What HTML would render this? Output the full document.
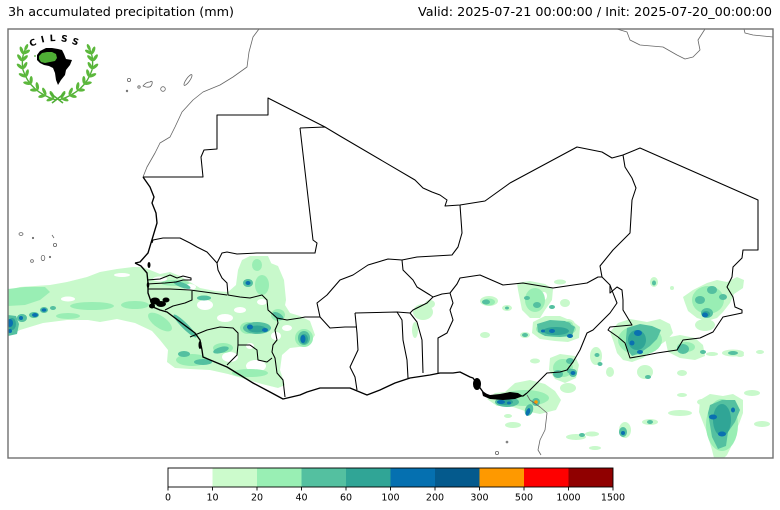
<!DOCTYPE html>
<html><head><meta charset="utf-8">
<style>
html,body{margin:0;padding:0;background:#fff;}
svg{display:block;}
</style></head>
<body>
<svg width="780" height="510" viewBox="0 0 780 510" xmlns="http://www.w3.org/2000/svg">
<defs>
<g id="br">
  <path d="M56,100 Q30,92 23,70 Q21,58 25,50" fill="none" stroke="#4fae35" stroke-width="1.3"/>
  <g fill="#5cb83c">
    <g transform="translate(54,98) rotate(200)"><ellipse cx="4" cy="0" rx="4" ry="1.6" transform="rotate(-40)"/><ellipse cx="4" cy="0" rx="4" ry="1.6" transform="rotate(40)"/></g>
    <g transform="translate(46,95) rotate(205)"><ellipse cx="4" cy="0" rx="4" ry="1.6" transform="rotate(-40)"/><ellipse cx="4" cy="0" rx="4" ry="1.6" transform="rotate(40)"/></g>
    <g transform="translate(38,90) rotate(220)"><ellipse cx="4" cy="0" rx="4" ry="1.6" transform="rotate(-40)"/><ellipse cx="4" cy="0" rx="4" ry="1.6" transform="rotate(40)"/></g>
    <g transform="translate(31,84) rotate(232)"><ellipse cx="4" cy="0" rx="4" ry="1.6" transform="rotate(-40)"/><ellipse cx="4" cy="0" rx="4" ry="1.6" transform="rotate(40)"/></g>
    <g transform="translate(26,77) rotate(245)"><ellipse cx="4" cy="0" rx="4" ry="1.6" transform="rotate(-40)"/><ellipse cx="4" cy="0" rx="4" ry="1.6" transform="rotate(40)"/></g>
    <g transform="translate(23,69) rotate(260)"><ellipse cx="4" cy="0" rx="4" ry="1.6" transform="rotate(-40)"/><ellipse cx="4" cy="0" rx="4" ry="1.6" transform="rotate(40)"/></g>
    <g transform="translate(22,61) rotate(275)"><ellipse cx="4" cy="0" rx="4" ry="1.6" transform="rotate(-40)"/><ellipse cx="4" cy="0" rx="4" ry="1.6" transform="rotate(40)"/></g>
    <g transform="translate(23,54) rotate(290)"><ellipse cx="4" cy="0" rx="4" ry="1.6" transform="rotate(-40)"/><ellipse cx="4" cy="0" rx="4" ry="1.6" transform="rotate(40)"/></g>
    <g transform="translate(25,50) rotate(295)"><ellipse cx="3" cy="0" rx="3.5" ry="1.5"/></g>
  </g>
</g>
<path id="arc" d="M31,47 Q55,35 80,47" fill="none"/>
</defs>

<rect x="0" y="0" width="780" height="510" fill="#fff"/>

<!-- Titles -->
<text x="8" y="16" font-family="DejaVu Sans, 'Liberation Sans', sans-serif" font-size="12.5" fill="#000" textLength="226" lengthAdjust="spacingAndGlyphs">3h accumulated precipitation (mm)</text>
<text x="772" y="16" text-anchor="end" font-family="DejaVu Sans, 'Liberation Sans', sans-serif" font-size="12.5" fill="#000" textLength="354" lengthAdjust="spacingAndGlyphs">Valid: 2025-07-21 00:00:00 / Init: 2025-07-20_00:00:00</text>

<!-- Map area -->
<svg x="8" y="29" width="765" height="429" viewBox="8 29 765 429" overflow="hidden">
<g fill="#c8f9cb">
  <polygon points="8,290 20,287 50,285 67,282 87,277 100,272 117,269 133,267 142,267 150,270 160,274 170,272 180,276 190,282 200,288 215,291 228,292 236,285 238,270 242,260 250,256 268,256 272,265 275,280 280,292 285,305 290,313 300,316 310,321 315,335 308,346 290,348 282,355 280,370 285,385 278,388 262,384 245,379 228,374 210,370 190,369 175,368 167,362 168,350 160,340 152,331 135,323 117,319 100,322 88,320 67,320 43,323 20,330 8,336"/>
  <polygon points="268,262 278,266 284,280 286,300 283,316 276,318 271,300"/>
  <ellipse cx="423" cy="312" rx="10" ry="8"/>
  <ellipse cx="415" cy="330" rx="3" ry="8"/>
  <ellipse cx="430" cy="304" rx="5" ry="4"/>
  <ellipse cx="489" cy="301" rx="9" ry="5"/>
  <ellipse cx="507" cy="308" rx="5" ry="3"/>
  <polygon points="517,283 530,281 545,284 553,289 552,300 545,310 540,318 530,318 522,310 520,300 518,290"/>
  <ellipse cx="560" cy="282" rx="6" ry="2.5"/>
  <polygon points="533,322 545,316 560,316 572,321 580,327 579,338 568,342 555,341 540,339 532,333"/>
  <ellipse cx="485" cy="335" rx="5" ry="3"/>
  <ellipse cx="525" cy="335" rx="5" ry="3"/>
  <ellipse cx="535" cy="361" rx="5" ry="2.5"/>
  <polygon points="550,358 560,354 575,356 579,365 576,378 565,383 555,379 549,370"/>
  <polygon points="515,383 530,380 545,384 555,391 561,400 556,410 540,414 525,411 510,406 497,406 487,399 495,393 505,392"/>
  <ellipse cx="568" cy="388" rx="8" ry="5"/>
  <ellipse cx="513" cy="425" rx="8" ry="3"/>
  <ellipse cx="508" cy="416" rx="4" ry="2"/>
  <ellipse cx="576" cy="437" rx="10" ry="3"/>
  <ellipse cx="592" cy="434" rx="7" ry="2.5"/>
  <ellipse cx="568" cy="325" rx="7" ry="6"/>
  <ellipse cx="565" cy="303" rx="5" ry="4"/>
  <ellipse cx="570" cy="370" rx="8" ry="6"/>
  <ellipse cx="596" cy="356" rx="6" ry="9"/>
  <ellipse cx="610" cy="372" rx="4" ry="5"/>
  <ellipse cx="645" cy="372" rx="8" ry="7"/>
  <ellipse cx="682" cy="373" rx="5" ry="3"/>
  <polygon points="610,332 618,323 630,319 647,322 660,319 670,324 673,333 667,340 660,345 650,353 643,358 632,362 623,360 617,353 614,343"/>
  <polygon points="665,338 680,335 695,338 703,345 705,356 695,360 680,358 668,352"/>
  <ellipse cx="733" cy="353" rx="11" ry="3.5"/>
  <ellipse cx="712" cy="354" rx="6" ry="2"/>
  <polygon points="683,297 693,290 707,283 717,280 727,282 737,277 744,280 743,288 734,294 730,303 723,312 717,318 707,321 697,318 688,311 685,303"/>
  <ellipse cx="654" cy="282" rx="4" ry="5"/>
  <ellipse cx="672" cy="288" rx="2" ry="2"/>
  <ellipse cx="705" cy="325" rx="10" ry="6"/>
  <polygon points="700,400 710,394 723,396 733,394 743,400 743,413 739,424 734,434 731,447 727,455 724,458 714,458 712,450 709,440 706,430 702,420 699,412"/>
  <ellipse cx="625" cy="430" rx="6" ry="8"/>
  <ellipse cx="650" cy="422" rx="8" ry="3"/>
  <ellipse cx="680" cy="413" rx="12" ry="3"/>
  <ellipse cx="682" cy="395" rx="5" ry="2"/>
  <ellipse cx="702" cy="402" rx="5" ry="3"/>
  <ellipse cx="762" cy="424" rx="8" ry="3"/>
  <ellipse cx="752" cy="393" rx="8" ry="3"/>
  <ellipse cx="740" cy="355" rx="4" ry="2"/>
  <ellipse cx="760" cy="352" rx="4" ry="2"/>
  <ellipse cx="595" cy="448" rx="6" ry="2"/>
</g>
<g fill="#fff">
  <ellipse cx="68" cy="299" rx="7" ry="2.5"/>
  <ellipse cx="122" cy="275" rx="8" ry="2"/>
  <ellipse cx="160" cy="279" rx="7" ry="2.5"/>
  <ellipse cx="205" cy="305" rx="8" ry="5"/>
  <ellipse cx="225" cy="318" rx="8" ry="4"/>
  <ellipse cx="240" cy="310" rx="6" ry="3"/>
  <ellipse cx="230" cy="357" rx="8" ry="5"/>
  <ellipse cx="256" cy="366" rx="10" ry="6"/>
  <ellipse cx="276" cy="336" rx="5" ry="4"/>
  <ellipse cx="190" cy="287" rx="6" ry="3"/>
  <ellipse cx="262" cy="302" rx="5" ry="3"/>
  <ellipse cx="250" cy="346" rx="4" ry="3"/>
  <ellipse cx="287" cy="328" rx="5" ry="3"/>
  <ellipse cx="717" cy="303" rx="4" ry="3"/>
  <ellipse cx="544" cy="296" rx="3" ry="4"/>
</g>
<g fill="#99eeb4">
  <polygon points="8,289 25,287 45,287 50,292 40,300 25,305 8,306"/>
  <ellipse cx="92" cy="306" rx="22" ry="4"/>
  <ellipse cx="68" cy="316" rx="12" ry="3"/>
  <ellipse cx="135" cy="305" rx="14" ry="4"/>
  <ellipse cx="160" cy="322" rx="14" ry="6" transform="rotate(35 160 322)"/>
  <ellipse cx="175" cy="283" rx="14" ry="3"/>
  <ellipse cx="223" cy="348" rx="10" ry="5"/>
  <ellipse cx="248" cy="328" rx="8" ry="6"/>
  <ellipse cx="262" cy="285" rx="7" ry="10"/>
  <ellipse cx="304" cy="338" rx="9" ry="9"/>
  <ellipse cx="250" cy="373" rx="18" ry="4"/>
  <ellipse cx="192" cy="360" rx="16" ry="6"/>
  <ellipse cx="257" cy="265" rx="5" ry="6"/>
  <ellipse cx="278" cy="315" rx="7" ry="6"/>
  <ellipse cx="489" cy="302" rx="6" ry="3.5"/>
  <ellipse cx="535" cy="300" rx="10" ry="12"/>
  <ellipse cx="556" cy="329" rx="20" ry="8"/>
  <ellipse cx="563" cy="368" rx="10" ry="9"/>
  <ellipse cx="525" cy="398" rx="24" ry="8"/>
  <ellipse cx="640" cy="340" rx="22" ry="15"/>
  <ellipse cx="708" cy="300" rx="16" ry="14"/>
  <ellipse cx="722" cy="425" rx="16" ry="26"/>
  <ellipse cx="686" cy="347" rx="9" ry="5"/>
  <ellipse cx="568" cy="325" rx="5" ry="4"/>
</g>
<g fill="#54c0a0">
  <polygon points="8,315 16,316 19,324 17,334 8,336"/>
  <ellipse cx="22" cy="318" rx="5" ry="4"/>
  <ellipse cx="34" cy="315" rx="5" ry="3"/>
  <ellipse cx="44" cy="310" rx="4" ry="3"/>
  <ellipse cx="53" cy="308" rx="3" ry="2"/>
  <ellipse cx="185" cy="326" rx="16" ry="3" transform="rotate(45 185 326)"/>
  <ellipse cx="182" cy="285" rx="9" ry="2.5" transform="rotate(20 182 285)"/>
  <ellipse cx="204" cy="298" rx="7" ry="2.5"/>
  <ellipse cx="248" cy="283" rx="5" ry="4"/>
  <ellipse cx="257" cy="328" rx="14" ry="6"/>
  <ellipse cx="304" cy="338" rx="6" ry="7"/>
  <ellipse cx="221" cy="350" rx="8" ry="3" transform="rotate(-15 221 350)"/>
  <ellipse cx="184" cy="354" rx="6" ry="3"/>
  <ellipse cx="203" cy="362" rx="9" ry="3"/>
  <ellipse cx="278" cy="316" rx="6" ry="3" transform="rotate(30 278 316)"/>
  <ellipse cx="486" cy="302" rx="4" ry="2.5"/>
  <ellipse cx="507" cy="308" rx="2" ry="1.5"/>
  <ellipse cx="537" cy="305" rx="4" ry="3"/>
  <ellipse cx="552" cy="307" rx="3" ry="2"/>
  <ellipse cx="527" cy="298" rx="3" ry="2"/>
  <polygon points="537,324 550,320 565,321 575,327 572,336 560,337 545,336 538,332"/>
  <ellipse cx="525" cy="335" rx="3" ry="2"/>
  <ellipse cx="558" cy="374" rx="5" ry="4"/>
  <ellipse cx="570" cy="361" rx="4" ry="3"/>
  <ellipse cx="573" cy="373" rx="4" ry="4"/>
  <ellipse cx="507" cy="402" rx="12" ry="5"/>
  <ellipse cx="529" cy="410" rx="4" ry="6" transform="rotate(20 529 410)"/>
  <ellipse cx="536" cy="402" rx="4" ry="4"/>
  <polygon points="627,328 640,324 652,326 661,330 657,339 650,346 640,353 632,356 626,348 626,338"/>
  <ellipse cx="683" cy="349" rx="6" ry="5"/>
  <ellipse cx="703" cy="352" rx="3" ry="2"/>
  <ellipse cx="712" cy="290" rx="5" ry="4"/>
  <ellipse cx="700" cy="300" rx="5" ry="4"/>
  <ellipse cx="707" cy="313" rx="6" ry="5"/>
  <ellipse cx="723" cy="297" rx="4" ry="3"/>
  <ellipse cx="654" cy="283" rx="2" ry="2.5"/>
  <polygon points="710,405 722,400 735,400 740,410 735,422 728,432 726,446 718,449 712,437 710,425 708,413"/>
  <ellipse cx="623" cy="432" rx="4" ry="5"/>
  <ellipse cx="650" cy="422" rx="3" ry="2"/>
  <ellipse cx="582" cy="435" rx="3" ry="2"/>
  <ellipse cx="567" cy="325" rx="4" ry="3"/>
  <ellipse cx="570" cy="371" rx="3" ry="2.5"/>
  <ellipse cx="597" cy="355" rx="2.5" ry="2"/>
  <ellipse cx="600" cy="364" rx="2.5" ry="2"/>
  <ellipse cx="648" cy="377" rx="3" ry="2"/>
  <ellipse cx="733" cy="353" rx="5" ry="2"/>
</g>
<g fill="#30a596">
  <ellipse cx="12" cy="324" rx="4" ry="6"/>
  <ellipse cx="257" cy="329" rx="9" ry="3.5"/>
  <ellipse cx="304" cy="339" rx="4" ry="5"/>
  <ellipse cx="556" cy="331" rx="13" ry="4"/>
  <ellipse cx="637" cy="340" rx="9" ry="10"/>
  <ellipse cx="722" cy="420" rx="9" ry="16"/>
  <ellipse cx="505" cy="402" rx="8" ry="3"/>
  <ellipse cx="706" cy="314" rx="4" ry="3"/>
</g>
<g fill="#0a70b0">
  <ellipse cx="10" cy="323" rx="3" ry="4"/>
  <ellipse cx="10" cy="331" rx="2" ry="2"/>
  <ellipse cx="21" cy="318" rx="2" ry="2"/>
  <ellipse cx="35" cy="315" rx="3" ry="2"/>
  <ellipse cx="44" cy="310" rx="2.5" ry="1.8"/>
  <ellipse cx="248" cy="283" rx="2.5" ry="2"/>
  <ellipse cx="250" cy="327" rx="3" ry="2.5"/>
  <ellipse cx="265" cy="330" rx="3" ry="2"/>
  <ellipse cx="303" cy="339" rx="2.5" ry="4"/>
  <ellipse cx="552" cy="331" rx="3" ry="2"/>
  <ellipse cx="570" cy="336" rx="3" ry="2"/>
  <ellipse cx="543" cy="331" rx="2" ry="1.5"/>
  <ellipse cx="573" cy="373" rx="2.5" ry="2"/>
  <ellipse cx="501" cy="402" rx="4" ry="2"/>
  <ellipse cx="509" cy="403" rx="2" ry="1.5"/>
  <ellipse cx="528" cy="412" rx="2" ry="4" transform="rotate(20 528 412)"/>
  <ellipse cx="638" cy="333" rx="4" ry="3"/>
  <ellipse cx="632" cy="343" rx="2.5" ry="2.5"/>
  <ellipse cx="640" cy="352" rx="3" ry="2"/>
  <ellipse cx="705" cy="315" rx="3" ry="2.5"/>
  <ellipse cx="713" cy="417" rx="4" ry="2.5"/>
  <ellipse cx="722" cy="434" rx="4" ry="2.5"/>
  <ellipse cx="733" cy="410" rx="2" ry="2.5"/>
  <ellipse cx="623" cy="433" rx="2" ry="2"/>
</g>
<ellipse cx="536" cy="402" rx="1.8" ry="1.8" fill="#fe9900"/>

<g fill="none" stroke="#666" stroke-width="0.8" stroke-linejoin="round">
  <polyline points="259,29 253,37 249,52 247,67 233,77 220,85 203,92 193,100 182,112 175,127 170,137 160,143 155,153 147,167 143,177"/>
  <polyline points="617,29 627,32 630,40 640,45 663,47 677,55 685,59 693,57 700,50 698,40 705,29"/>
  <polyline points="744,29 745,33 753,35 763,36 773,37"/>
  <polyline points="527,395 530,400 540,407 547,413 545,430 540,440 538,450 541,455"/>
  <circle cx="129" cy="80" r="1.6"/>
  <circle cx="127" cy="91" r="0.8"/>
  <circle cx="139" cy="87" r="1.2"/>
  <path d="M143,86 Q146,82 150,82 Q153,80 152,84 Q151,88 146,87 Z"/>
  <circle cx="163" cy="89" r="2.3"/>
  <ellipse cx="188" cy="80" rx="6.5" ry="1.8" transform="rotate(-55 188 80)"/>
  <ellipse cx="21" cy="234" rx="2" ry="1.4"/>
  <circle cx="33" cy="238" r="0.7"/>
  <line x1="52" y1="235" x2="54" y2="238"/>
  <circle cx="55" cy="245" r="1.6"/>
  <circle cx="32" cy="261" r="1.4"/>
  <ellipse cx="43" cy="258" rx="1.8" ry="2.6"/>
  <circle cx="50" cy="257" r="0.7"/>
  <circle cx="507" cy="442" r="0.9"/>
  <circle cx="497" cy="453" r="1.6"/>
</g>

<g fill="none" stroke="#000" stroke-width="1.05" stroke-linejoin="round">
  <polyline points="143,177 203,177 201,157 204,150 217,149 217,115 268,115 268,98 325,127"/>
  <polyline points="300,128 325,127 340,136 415,180 423,188 432,192 440,195 447,200 445,206 460,205 485,201 510,183 577,147 602,152 612,158 623,155 640,148 758,200 758,250 743,250 742,258 733,267 732,277 727,287 733,297 735,307 742,310 742,313 723,317 713,332 700,338 683,340 677,350 657,353 647,355 630,358 625,343 618,337 608,330 610,327 632,325 623,310 623,300 622,290 617,287 610,293 610,285 602,277"/>
  <polyline points="623,155 625,167 632,178 636,188 632,200 630,233 613,250 600,266 602,277"/>
  <polyline points="300,128 313,240 317,243 315,253 257,253 237,254 227,252 222,253 217,263"/>
  <polyline points="152,243 153,240 163,238 180,238 190,243 197,247 207,252 217,263"/>
  <polyline points="217,263 218,270 222,278 227,283 228,295 240,297 250,298 262,295 267,300 268,310 277,318 287,320 300,318 305,317 320,317"/>
  <polyline points="148,289 170,289 190,290 227,295"/>
  <polyline points="147,280 160,279 170,275 177,278 183,276 191,278 191,280 183,280 176,282 165,283 147,284"/>
  <polyline points="192,291 192,300 185,303 173,306 165,310"/>
  <polyline points="190,337 207,330 220,327 233,328 238,333 238,345 237,355 227,365"/>
  <polyline points="238,345 250,345 257,350 258,360 267,362 272,358"/>
  <polyline points="277,318 278,323 275,330 277,340 273,345 272,352 275,358 277,373 283,380 285,397"/>
  <polyline points="320,317 317,303 327,295 340,280 353,275 368,265 388,259 402,260 417,257 452,255 458,247 462,233 460,205"/>
  <polyline points="402,260 403,270 413,280 417,287 430,295 433,297 442,294 450,293 457,284 460,278 480,275 503,285 523,283 553,288 587,283 598,277 602,277"/>
  <polyline points="320,317 330,328 345,327 357,327"/>
  <polyline points="355,313 397,312 410,313 413,310 427,303 433,297"/>
  <polyline points="355,313 357,333 358,350 350,367 355,377 357,390"/>
  <polyline points="397,312 402,320 403,340 407,360 408,378"/>
  <polyline points="410,313 417,322 422,340 423,373"/>
  <polyline points="450,293 453,303 450,310 453,320 447,333 438,338 438,373"/>
  <polyline points="610,285 613,293 617,303 610,313 600,323 593,330 587,333 580,350 573,362 567,370 560,372 547,373 537,383 527,393"/>
</g>
<g fill="none" stroke="#000" stroke-width="1.35" stroke-linejoin="round">
  <polyline points="143,177 150,187 154,197 152,203 156,213 157,223 154,233 151,243 148,253 140,262 135,263"/>
  <polyline points="135,263 141,266 147,273 148,283 148,293 153,307 160,310 167,312 175,318 187,327 195,333 200,340 202,350 203,357 215,362 227,367 240,375 253,383 270,392 283,399 300,395 307,392 320,388 340,388 350,388 367,395 380,390 395,383 410,378 430,375 440,373 453,373 460,372 470,377 473,378 478,385 483,392 490,397 503,397 515,396 523,396 527,393"/>
</g>
<g fill="#000">
  <ellipse cx="477" cy="384" rx="4" ry="6"/>
  <path d="M482,392 L490,395 L500,394 L510,392 L518,393 L523,396 L515,399 L503,400 L490,399 L483,396 Z"/>
  <ellipse cx="155" cy="301" rx="5" ry="3.5"/>
  <ellipse cx="161" cy="304" rx="5" ry="3"/>
  <ellipse cx="166" cy="300" rx="3.5" ry="2.5"/>
  <ellipse cx="152" cy="306" rx="3" ry="2.5"/>
  <ellipse cx="149" cy="265" rx="1.5" ry="3"/>
  <ellipse cx="148" cy="285" rx="1.3" ry="3"/>
  <ellipse cx="200" cy="345" rx="1.5" ry="4"/>
</g>
</svg>

<rect x="8" y="29" width="765" height="429" fill="none" stroke="#707070" stroke-width="1.4"/>

<!-- Logo -->
<g>
  <use href="#br"/>
  <use href="#br" transform="translate(115,0) scale(-1,1)"/>
  <line x1="50" y1="93" x2="63" y2="103" stroke="#4fae35" stroke-width="1.6"/>
  <line x1="65" y1="93" x2="52" y2="103" stroke="#4fae35" stroke-width="1.6"/>
  <path d="M37,55 L40,51 L46,48 L52,48 L58,49 L62,50 L64,54 L66,59 L72,60 L70,65 L66,70 L65,75 L61,80 L58,85 L56,80 L55,73 L53,68 L49,66 L44,65 L40,63 L37,60 Z" fill="#000"/>
  <path d="M39,56 L42,53 L47,52 L52,52 L56,54 L57,58 L55,61 L50,62 L45,63 L41,62 L39,59 Z" fill="#4fae35"/>
  <circle cx="35" cy="56" r="0.9" fill="#4fae35"/>
  <text font-family="DejaVu Sans, 'Liberation Sans', sans-serif" font-size="9" font-weight="bold" fill="#000"><textPath href="#arc" textLength="48" lengthAdjust="spacing">CILSS</textPath></text>
</g>

<!-- Colorbar -->
<g>
  <rect x="168" y="468" width="44.5" height="19" fill="#ffffff"/>
  <rect x="212.5" y="468" width="44.5" height="19" fill="#ccfbcc"/>
  <rect x="257" y="468" width="44.5" height="19" fill="#99efb4"/>
  <rect x="301.5" y="468" width="44.5" height="19" fill="#54c0a0"/>
  <rect x="346" y="468" width="44.5" height="19" fill="#30a596"/>
  <rect x="390.5" y="468" width="44.5" height="19" fill="#0570b0"/>
  <rect x="435" y="468" width="44.5" height="19" fill="#045a8d"/>
  <rect x="479.5" y="468" width="44.5" height="19" fill="#fe9900"/>
  <rect x="524" y="468" width="44.5" height="19" fill="#fe0000"/>
  <rect x="568.5" y="468" width="44.5" height="19" fill="#900000"/>
  <rect x="168" y="468" width="445" height="19" fill="none" stroke="#000" stroke-width="0.9"/>
  <g stroke="#000" stroke-width="0.9">
    <line x1="168" y1="487" x2="168" y2="490.5"/>
    <line x1="212.5" y1="487" x2="212.5" y2="490.5"/>
    <line x1="257" y1="487" x2="257" y2="490.5"/>
    <line x1="301.5" y1="487" x2="301.5" y2="490.5"/>
    <line x1="346" y1="487" x2="346" y2="490.5"/>
    <line x1="390.5" y1="487" x2="390.5" y2="490.5"/>
    <line x1="435" y1="487" x2="435" y2="490.5"/>
    <line x1="479.5" y1="487" x2="479.5" y2="490.5"/>
    <line x1="524" y1="487" x2="524" y2="490.5"/>
    <line x1="568.5" y1="487" x2="568.5" y2="490.5"/>
    <line x1="613" y1="487" x2="613" y2="490.5"/>
  </g>
  <g font-family="DejaVu Sans, 'Liberation Sans', sans-serif" font-size="9.5" fill="#000" text-anchor="middle">
    <text x="168" y="500.5">0</text>
    <text x="212.5" y="500.5">10</text>
    <text x="257" y="500.5">20</text>
    <text x="301.5" y="500.5">40</text>
    <text x="346" y="500.5">60</text>
    <text x="390.5" y="500.5">100</text>
    <text x="435" y="500.5">200</text>
    <text x="479.5" y="500.5">300</text>
    <text x="524" y="500.5">500</text>
    <text x="568.5" y="500.5">1000</text>
    <text x="613" y="500.5">1500</text>
  </g>
</g>
</svg>
</body></html>
